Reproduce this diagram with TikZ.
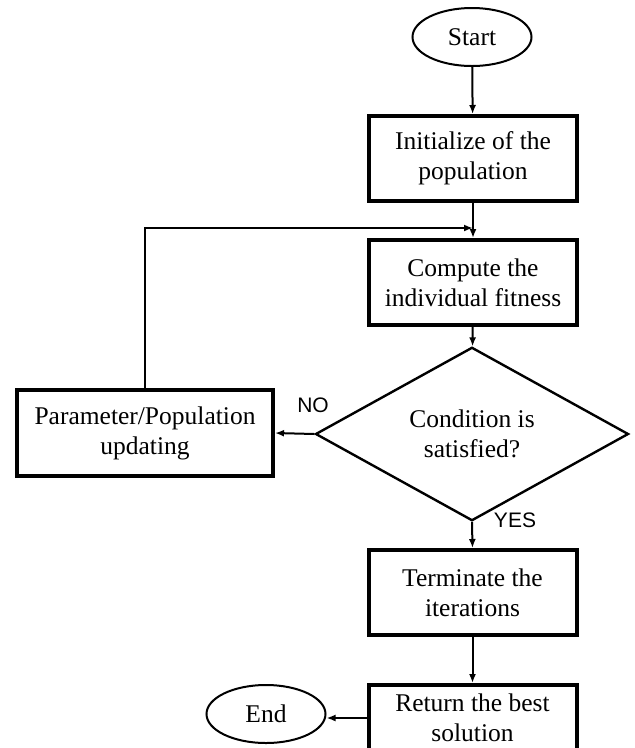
\documentclass[tikz,border=0pt]{standalone}
\usepackage{fontspec}
\setmainfont{Liberation Serif}
\newfontfamily\labelfont{Liberation Sans}
\usetikzlibrary{shapes.geometric,arrows.meta}
\begin{document}
\begin{tikzpicture}[x=1pt,y=-1pt,
  every node/.style={font=\fontsize{25.5}{30}\selectfont, align=center, inner sep=0pt},
  procbox/.style={draw, line width=4pt, rectangle, minimum width=208pt, minimum height=85pt},
  term/.style={draw, line width=2pt, ellipse, minimum width=119pt, minimum height=58pt},
  decide/.style={draw, line width=2.4pt, diamond, minimum width=313pt, minimum height=133pt},
  conn/.style={line width=2pt, -{Latex[length=9pt,width=7pt]}},
  lbl/.style={font=\labelfont\fontsize{21}{24}\selectfont}
]
\useasboundingbox (0,0) rectangle (635,748);
\clip (0,0) rectangle (635,748);
\fill[white] (0,0) rectangle (635,748);

\node[term] (start) at (472,37) {Start};
\node[procbox] (init) at (473,158.5) {Initialize of the\\population};
\node[procbox] (fit) at (473,282.5) {Compute the\\individual fitness};
\node[decide] (cond) at (472,434) {Condition is\\satisfied?};
\node[procbox, minimum width=256pt, minimum height=86pt] (upd) at (145,433) {Parameter/Population\\updating};
\node[procbox] (term) at (472.5,592.5) {Terminate the\\iterations};
\node[procbox, minimum height=66pt] (ret) at (472.5,718) {Return the best\\solution};
\node[term] (end) at (266,714) {End};

\coordinate (fb) at (473,228);

\draw[conn] (start) -- (init);
\draw[conn] (init) -- (fit);
\draw[conn] (fit) -- (cond);
\draw[conn] (cond.west) -- (upd.east);
\draw[conn] (upd.north) |- (fb);
\draw[conn] (cond.south) -- (term.north);
\draw[conn] (term) -- (ret);
\draw[conn] (ret.west) -- (ret.west -| end.east);

\node[lbl] (no) at (313,405) {NO};
\node[lbl] (yes) at (515,520) {YES};
\end{tikzpicture}
\end{document}
